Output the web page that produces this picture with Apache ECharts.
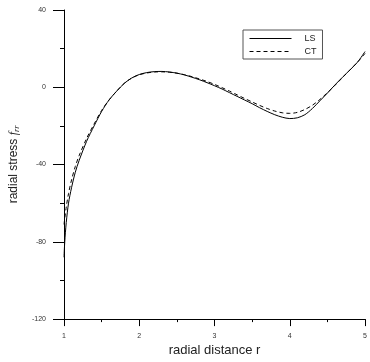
<!DOCTYPE html>
<html>
<head>
<meta charset="utf-8">
<script src="https://cdn.jsdelivr.net/npm/echarts@6/dist/echarts.min.js"></script>
<style>
  html, body { margin: 0; padding: 0; background: #fff; }
  #chart { width: 370px; height: 362px; }
</style>
</head>
<body>
<div id="chart"></div>
<script>
// radial positions and the two stress curves
var rLS = [1.00, 1.01, 1.03, 1.06, 1.10, 1.15, 1.20, 1.30, 1.40, 1.50, 1.60, 1.70, 1.80, 1.90, 2.00,
  2.10, 2.20, 2.30, 2.40, 2.50, 2.60, 2.70, 2.80, 2.90, 3.00, 3.10, 3.20, 3.30, 3.40, 3.50,
  3.60, 3.70, 3.80, 3.90, 4.00, 4.10, 4.20, 4.30, 4.40, 4.50, 4.60, 4.70, 4.80, 4.90, 5.00]
var ls = [-88, -80, -70, -60, -52, -44, -38, -28, -20, -12.5, -6.5, -2, 2, 4.8, 6.6,
  7.6, 8.1, 8.2, 7.9, 7.3, 6.4, 5.2, 3.9, 2.4, 0.8, -0.9, -2.8, -4.7, -6.6, -8.5,
  -10.6, -12.5, -14.2, -15.5, -16.2, -15.8, -14.2, -11, -7, -3, 1.2, 5.2, 9, 13, 18.5]

var rCT = [1.00, 1.03, 1.06, 1.10, 1.15, 1.20, 1.30, 1.40, 1.50, 1.60, 1.70, 1.80, 1.90, 2.00,
  2.10, 2.20, 2.30, 2.40, 2.50, 2.60, 2.70, 2.80, 2.90, 3.00, 3.10, 3.20, 3.30, 3.40, 3.50,
  3.60, 3.70, 3.80, 3.90, 4.00, 4.10, 4.20, 4.30, 4.40, 4.50, 4.60, 4.70, 4.80, 4.90, 5.00]
var ct = [-71, -62, -55, -48, -41, -35.5, -26.5, -19, -12, -6.5, -2, 2, 4.8, 6.5,
  7.4, 7.9, 8.0, 7.8, 7.3, 6.5, 5.5, 4.3, 3.0, 1.5, -0.2, -2.0, -3.9, -5.8, -7.6,
  -9.4, -11.0, -12.3, -13.2, -13.5, -13, -11.5, -9.3, -6.3, -2.8, 1, 5, 9, 13, 17.5]

var xTicks = [1, 2, 3, 4, 5]
var yTicks = [-120, -80, -40, 0, 40]

function pairs(xs, ys) {
  return xs.map(function (x, i) { return [x, ys[i]] })
}

var chart = echarts.init(document.getElementById('chart'))
var labelStyle = { color: '#333', fontSize: 7, fontFamily: 'Liberation Sans, Arial' }

chart.setOption({
  animation: false,
  backgroundColor: '#fff',
  grid: { left: 62, right: 2, top: 10, bottom: 41 },
  legend: {
    left: 243,
    top: 30,
    orient: 'vertical',
    itemWidth: 42,
    itemHeight: 8,
    itemGap: 4,
    padding: [4, 6, 3, 6],
    borderColor: '#555',
    borderWidth: 1,
    itemStyle: { opacity: 0 },
    lineStyle: { width: 1 },
    textStyle: { color: '#222', fontSize: 9, fontFamily: 'Liberation Sans, Arial', padding: [0, 0, 0, 8] },
    data: ['LS', 'CT']
  },
  xAxis: {
    type: 'value',
    min: xTicks[0],
    max: xTicks[xTicks.length - 1],
    interval: 1,
    name: 'radial distance r',
    nameLocation: 'middle',
    nameGap: 23,
    nameTextStyle: { color: '#222', fontSize: 13, fontFamily: 'Liberation Sans, Arial' },
    axisLine: { onZero: false, lineStyle: { color: '#000', width: 1 } },
    axisTick: { length: 7, lineStyle: { color: '#000' } },
    minorTick: { show: true, splitNumber: 2, length: 3, lineStyle: { color: '#000' } },
    axisLabel: Object.assign({ margin: 13 }, labelStyle),
    splitLine: { show: false }
  },
  yAxis: {
    type: 'value',
    min: yTicks[0],
    max: yTicks[yTicks.length - 1],
    interval: 40,
    name: '{n|radial stress }{f|f}{s|rr}',
    nameLocation: 'middle',
    nameRotate: 90,
    nameGap: 43,
    nameTextStyle: {
      rich: {
        n: { color: '#222', fontSize: 12, fontFamily: 'Liberation Sans, Arial' },
        f: { color: '#222', fontSize: 12, fontStyle: 'italic', fontFamily: 'Liberation Serif, serif' },
        s: { color: '#222', fontSize: 8, fontStyle: 'italic', fontFamily: 'Liberation Serif, serif', padding: [6, 0, 0, 0] }
      }
    },
    axisLine: { show: true, onZero: false, lineStyle: { color: '#000', width: 1 } },
    axisTick: { show: true, length: 11, lineStyle: { color: '#000' } },
    minorTick: { show: true, splitNumber: 2, length: 4, lineStyle: { color: '#000' } },
    axisLabel: Object.assign({ margin: 18 }, labelStyle),
    splitLine: { show: false }
  },
  series: [
    {
      name: 'LS',
      type: 'line',
      smooth: 0.3,
      symbol: 'none',
      lineStyle: { color: '#000', width: 1 },
      itemStyle: { color: '#000' },
      data: pairs(rLS, ls)
    },
    {
      name: 'CT',
      type: 'line',
      smooth: 0.3,
      symbol: 'none',
      lineStyle: { color: '#000', width: 1, type: [4, 3] },
      itemStyle: { color: '#000' },
      data: pairs(rCT, ct)
    }
  ]
})
</script>
</body>
</html>
